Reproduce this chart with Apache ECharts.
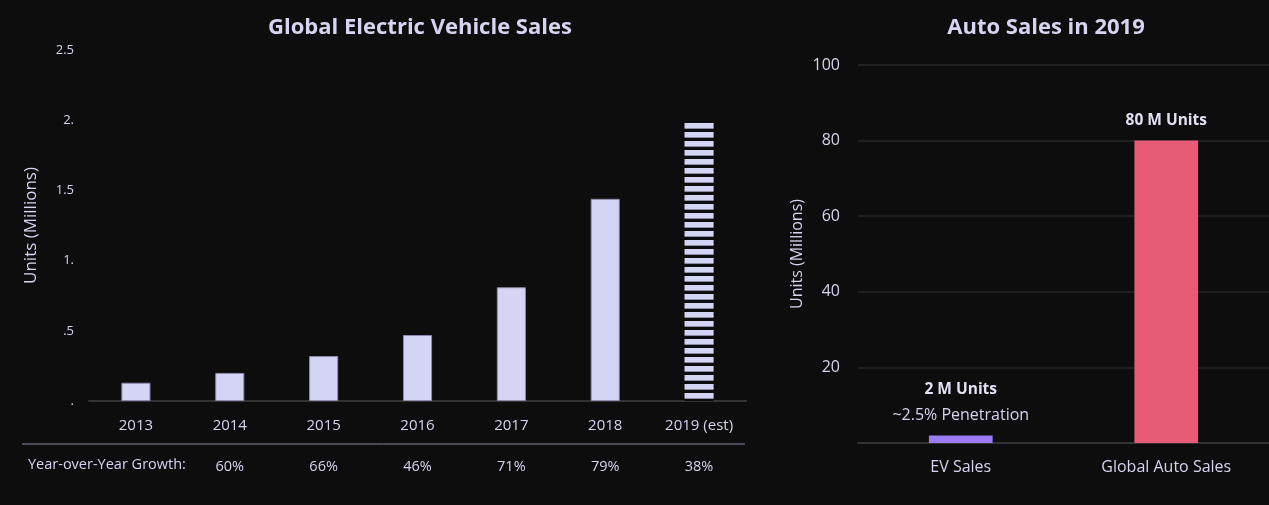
<!DOCTYPE html>
<html>
<head>
<meta charset="utf-8">
<script src="https://cdn.jsdelivr.net/npm/echarts@6/dist/echarts.min.js"></script>
<style>
html,body{margin:0;padding:0;background:#0d0d0d;}
#c{width:1269px;height:505px;}
</style>
</head>
<body>
<div id="c"></div>
<script>
// ---- data ----
const evYears = ['2013','2014','2015','2016','2017','2018','2019 (est)'];
const evSales = [0.13, 0.20, 0.32, 0.47, 0.81, 1.44, 1.98];
const yoyGrowth = ['', '60%', '66%', '46%', '71%', '79%', '38%'];
const evYTickLabels = ['.', '.5', '1.', '1.5', '2.', '2.5'];
const autoCats = ['EV Sales', 'Global Auto Sales'];
const autoSales = [2, 80];
const autoLabelsBold = ['2 M Units', '80 M Units'];
const autoLabelsSub = ['~2.5% Penetration', ''];

const TXT = '#d6d4f0';
const FONT = '"Open Sans", Lato, sans-serif';

// stripe pattern for estimated bar
const pc = document.createElement('canvas');
pc.width = 10; pc.height = 9;
const pctx = pc.getContext('2d');
pctx.fillStyle = '#0d0d0d'; pctx.fillRect(0,0,10,9);
pctx.fillStyle = '#d4d4f4'; pctx.fillRect(0,0,10,5);
pctx.fillStyle = '#8c8ca8'; pctx.fillRect(0,5,10,1);

const chart = echarts.init(document.getElementById('c'));
chart.setOption({
  backgroundColor: '#0d0d0d',
  textStyle: {fontFamily: FONT},
  title: [
    {text: 'Global Electric Vehicle Sales', left: 415, top: 12, textAlign: 'center',
     textStyle: {color: TXT, fontSize: 22, fontWeight: 'bold', fontFamily: FONT}},
    {text: 'Auto Sales in 2019', left: 1041, top: 12, textAlign: 'center',
     textStyle: {color: TXT, fontSize: 22, fontWeight: 'bold', fontFamily: FONT}}
  ],
  grid: [
    {left: 89, right: 523, top: 50, bottom: 104},
    {left: 858, width: 415, top: 65, bottom: 62}
  ],
  xAxis: [
    {type: 'category', gridIndex: 0, data: evYears,
     axisLine: {lineStyle: {color: '#333333', width: 2}}, axisTick: {show: false},
     axisLabel: {color: TXT, fontSize: 15, margin: 17, fontFamily: FONT}},
    {type: 'category', gridIndex: 0, data: evYears, position: 'bottom', offset: 51,
     axisLine: {show: false}, axisTick: {show: false},
     axisLabel: {color: TXT, fontSize: 14.5, margin: 7, fontFamily: FONT,
       formatter: (v, i) => yoyGrowth[i]}},
    {type: 'category', gridIndex: 1, data: autoCats,
     axisLine: {lineStyle: {color: '#333333', width: 2}}, axisTick: {show: false},
     axisLabel: {color: TXT, fontSize: 16, margin: 16, fontFamily: FONT}}
  ],
  yAxis: [
    {type: 'value', gridIndex: 0, min: 0, max: 2.5, interval: 0.5,
     name: 'Units (Millions)', nameLocation: 'middle', nameGap: 49,
     nameTextStyle: {color: TXT, fontSize: 17, fontFamily: FONT},
     splitLine: {show: false}, axisLine: {show: false}, axisTick: {show: false},
     axisLabel: {color: TXT, fontSize: 13, margin: 15, fontFamily: FONT,
       formatter: (v) => evYTickLabels[Math.round(v / 0.5)]}},
    {type: 'value', gridIndex: 1, min: 0, max: 100, interval: 20,
     name: 'Units (Millions)', nameLocation: 'middle', nameGap: 53,
     nameTextStyle: {color: TXT, fontSize: 16, fontFamily: FONT},
     splitLine: {lineStyle: {color: '#202020', width: 2}}, axisLine: {show: false}, axisTick: {show: false},
     axisLabel: {color: TXT, fontSize: 16, margin: 18, fontFamily: FONT,
       formatter: (v) => v === 0 ? '' : String(v)}}
  ],
  series: [
    {type: 'bar', xAxisIndex: 0, yAxisIndex: 0, barWidth: '31%',
     data: evSales.map((v, i) => ({
       value: v,
       itemStyle: i === evSales.length - 1
         ? {color: {image: pc, repeat: 'repeat', y: 6}}
         : {color: '#d4d4f4', borderColor: '#8c8ca8', borderWidth: 1}
     }))},
    {type: 'bar', xAxisIndex: 2, yAxisIndex: 1, barWidth: '31%',
     data: autoSales.map((v, i) => ({
       value: v,
       itemStyle: {color: i === 0 ? '#9a7cf2' : '#e85b76'}
     })),
     label: {show: true, position: 'top', distance: 7,
       formatter: (p) => autoLabelsSub[p.dataIndex]
         ? '{b|' + autoLabelsBold[p.dataIndex] + '}\n{s|' + autoLabelsSub[p.dataIndex] + '}'
         : '{b|' + autoLabelsBold[p.dataIndex] + '}',
       rich: {
         b: {color: '#e2e0f4', fontSize: 15.5, fontWeight: 'bold', lineHeight: 26, fontFamily: FONT},
         s: {color: TXT, fontSize: 16, lineHeight: 26, fontFamily: FONT}
       }}}
  ],
  graphic: [
    {type: 'line', shape: {x1: 22, y1: 444, x2: 745, y2: 444},
     style: {stroke: '#8a8aa2', lineWidth: 1}},
    {type: 'text', left: 28, top: 457,
     style: {text: 'Year-over-Year Growth:', fill: TXT, fontSize: 14.5, fontFamily: FONT}}
  ]
});
</script>
</body>
</html>
